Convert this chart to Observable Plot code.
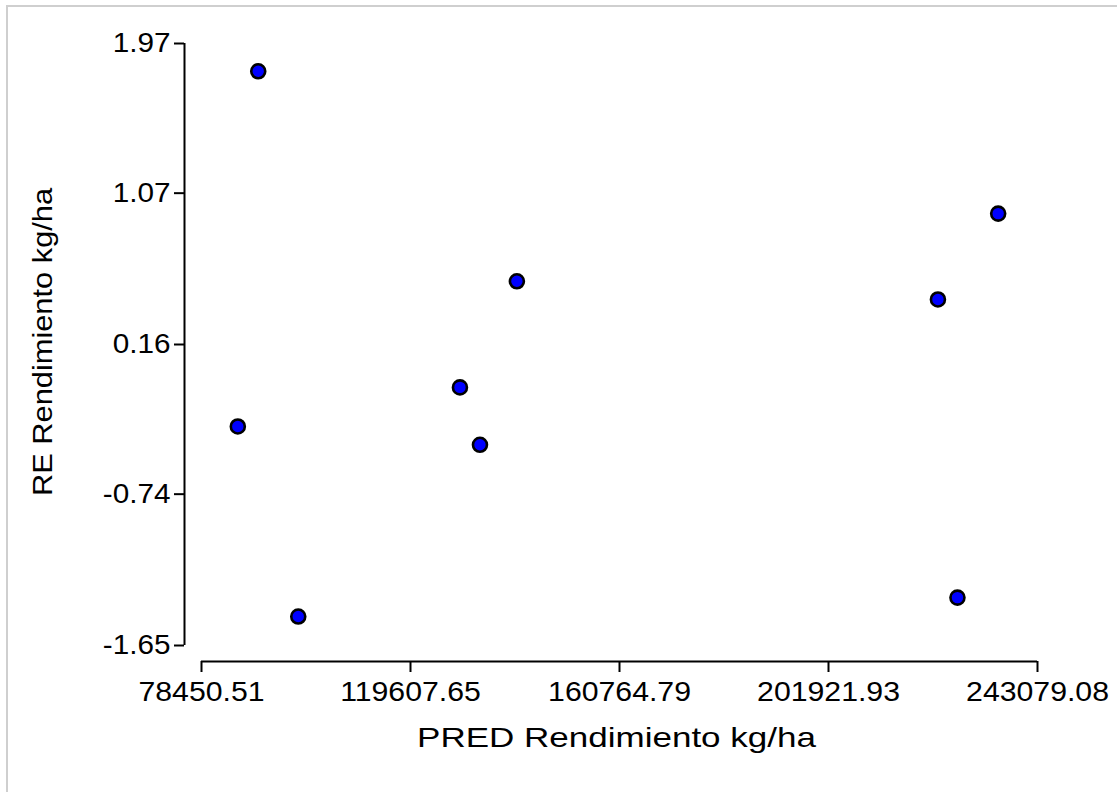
<!DOCTYPE html>
<html>
<head>
<meta charset="utf-8">
<script src="https://cdn.jsdelivr.net/npm/d3@7"></script>
<script src="https://cdn.jsdelivr.net/npm/@observablehq/plot@0.6"></script>
<style>
  html, body { margin: 0; padding: 0; background: #fff; overflow: hidden; }
  #wrap { position: relative; width: 1117px; height: 792px; }
  #border { position: absolute; left: 6px; top: 5px; width: 1200px; height: 900px;
            border-left: 2px solid #cfcfcf; border-top: 2px solid #cfcfcf; pointer-events: none; }
  svg text { font-family: "Liberation Sans", Arial, sans-serif; fill: #000; }
</style>
</head>
<body>
<div id="wrap"><div id="border"></div></div>
<script>
// Data
const pred = [89623, 85603, 97505, 129346, 133287, 140558, 223472, 235334, 227315];
const re   = [1.803, -0.333, -1.476, -0.098, -0.443, 0.540, 0.431, 0.947, -1.362];

const xTicks = [78450.51, 119607.65, 160764.79, 201921.93, 243079.08];
const yTicks = [-1.65, -0.74, 0.16, 1.07, 1.97];

const xTitle = "PRED Rendimiento kg/ha";
const yTitle = "RE Rendimiento kg/ha";

const points = pred.map((x, i) => ({x, y: re[i]}));
const xMin = xTicks[0], xMax = xTicks[xTicks.length - 1];
const yMin = yTicks[0], yMax = yTicks[yTicks.length - 1];

const chart = Plot.plot({
  width: 1117,
  height: 792,
  marginLeft: 201,
  marginRight: 80,
  marginTop: 43,
  marginBottom: 147,
  style: {fontFamily: "Liberation Sans, Arial, sans-serif", background: "white", color: "black"},
  x: {domain: [xMin, xMax]},
  y: {domain: [yMin, yMax]},
  marks: [
    Plot.ruleY([yMin], {x1: xMin, x2: xMax, dy: 16, stroke: "black", strokeWidth: 2}),
    Plot.ruleX([xMin], {y1: yMin, y2: yMax, dx: -17, stroke: "black", strokeWidth: 2}),
    Plot.axisX(xTicks, {
      tickSize: 11, dy: 16, strokeWidth: 2, tickPadding: 9,
      tickFormat: d => d.toFixed(2), fontSize: 28, label: null
    }),
    Plot.axisY(yTicks, {
      tickSize: 10, dx: -17, strokeWidth: 2, tickPadding: 4,
      tickFormat: d => d.toFixed(2), fontSize: 28, label: null
    }),
    Plot.text([xTitle], {text: d => d, frameAnchor: "bottom", textAnchor: "middle", lineAnchor: "middle",
                          dy: 93, dx: -3, fontSize: 28}),
    Plot.text([yTitle], {text: d => d, frameAnchor: "left", textAnchor: "middle", lineAnchor: "middle",
                          rotate: -90, dx: -158, dy: -2.5, fontSize: 28}),
    Plot.dot(points, {x: "x", y: "y", r: 7, fill: "#0000ff", stroke: "black", strokeWidth: 2.6})
  ]
});
document.getElementById("wrap").prepend(chart);

// horizontal stretch of the glyphs, as in the reference rendering
function stretch(selection, factor) {
  selection.each(function() {
    const len = this.getComputedTextLength();
    this.setAttribute("textLength", (len * factor).toFixed(1));
    this.setAttribute("lengthAdjust", "spacingAndGlyphs");
  });
}
const svg = d3.select(chart);
stretch(svg.selectAll('g[aria-label="x-axis tick label"] text'), 1.08);
stretch(svg.selectAll('g[aria-label="y-axis tick label"] text'), 1.06);
stretch(svg.selectAll("text").filter(function() { return this.textContent === xTitle; }), 1.25);
stretch(svg.selectAll("text").filter(function() { return this.textContent === yTitle; }), 1.1);
</script>
</body>
</html>
